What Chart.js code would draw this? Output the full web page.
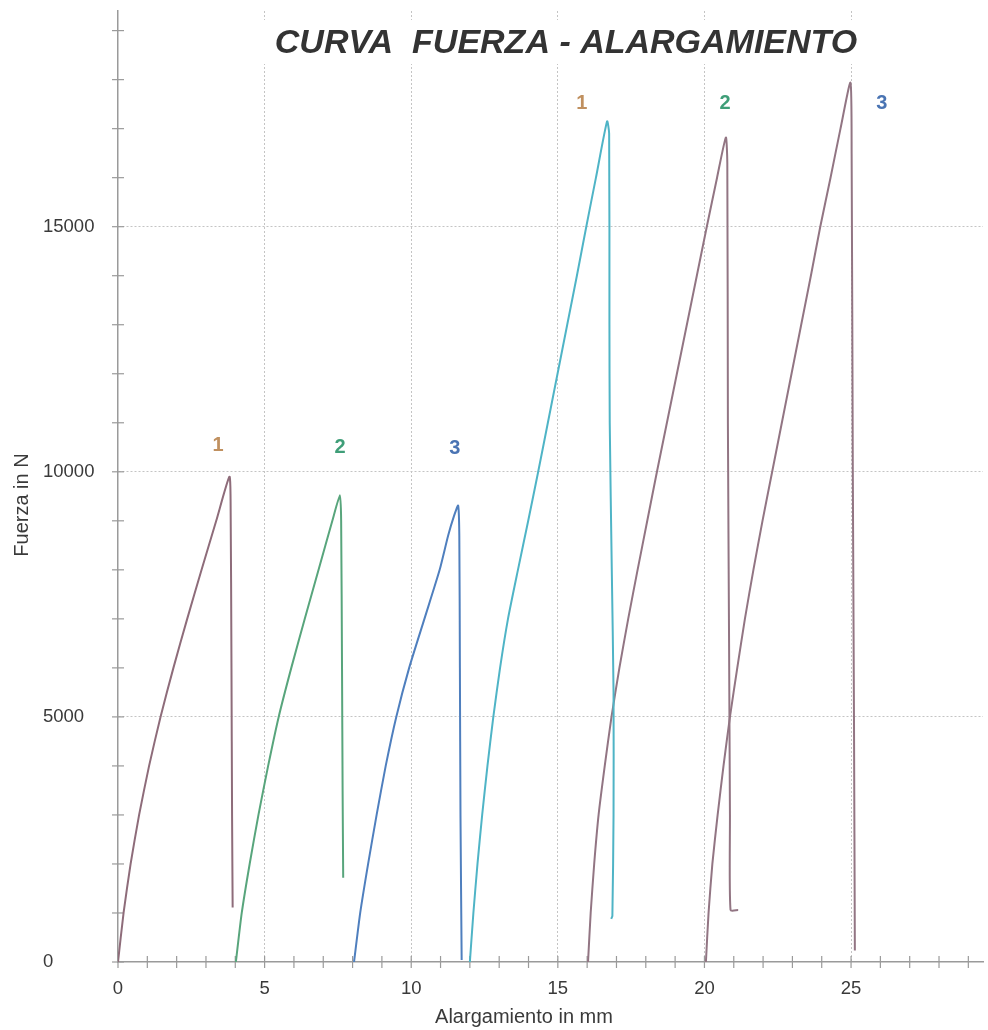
<!DOCTYPE html>
<html>
<head>
<meta charset="utf-8">
<script src="https://cdn.jsdelivr.net/npm/chart.js@4.4.1/dist/chart.umd.min.js"></script>
<style>
  html, body { margin: 0; padding: 0; background: #fff; }
  #wrap { width: 988px; height: 1030px; position: relative; }
</style>
</head>
<body>
<div id="wrap"><canvas id="myChart"></canvas></div>
<script>
// Fuerza (N) frente a alargamiento (mm)
var serieA1 = [[0,0],[0.19,1000],[0.43,2000],[0.72,3000],[1.06,4000],[1.45,5000],[1.89,6000],[2.36,7000],[2.85,8000],[3.35,9000],[3.8,9900],[3.84,9400],[3.87,6000],[3.89,3000],[3.91,1110]];
var serieA2 = [[4.02,0],[4.22,1000],[4.49,2000],[4.79,3000],[5.12,4000],[5.48,5000],[5.91,6000],[6.37,7000],[6.84,8000],[7.31,9000],[7.57,9520],[7.61,9000],[7.64,6000],[7.66,3500],[7.68,1720]];
var serieA3 = [[8.05,0],[8.26,1000],[8.53,2000],[8.82,3000],[9.13,4000],[9.49,5000],[9.93,6000],[10.45,7000],[10.97,8000],[11.26,8700],[11.46,9100],[11.6,9310],[11.64,8700],[11.66,6000],[11.68,3000],[11.72,40]];
var serieB1 = [[12.0,0],[12.12,1000],[12.26,2000],[12.42,3000],[12.6,4000],[12.8,5000],[13.03,6000],[13.3,7000],[13.64,8000],[13.99,9000],[14.33,10000],[14.66,11000],[14.99,12000],[15.32,13000],[15.65,14000],[15.97,15000],[16.3,16000],[16.68,17150],[16.75,16900],[16.76,13000],[16.77,11000],[16.84,8000],[16.9,5500],[16.9,3000],[16.86,940],[16.82,880]];
var serieB2 = [[16.03,0],[16.12,1000],[16.24,2000],[16.39,3000],[16.6,4000],[16.83,5000],[17.1,6000],[17.4,7000],[17.72,8000],[18.05,9000],[18.38,10000],[18.72,11000],[19.06,12000],[19.4,13000],[19.74,14000],[20.08,15000],[20.43,16000],[20.73,16820],[20.78,16300],[20.8,11000],[20.84,6500],[20.87,3000],[20.89,1060],[21.15,1060]];
var serieB3 = [[20.05,0],[20.14,1000],[20.27,2000],[20.45,3000],[20.65,4000],[20.87,5000],[21.12,6000],[21.38,7000],[21.67,8000],[21.98,9000],[22.31,10000],[22.64,11000],[22.97,12000],[23.3,13000],[23.63,14000],[23.95,15000],[24.3,16000],[24.64,17000],[24.98,17940],[25.02,16500],[25.06,10000],[25.1,5000],[25.13,235]];

var curveColors = ['#8e6c7a', '#58a57c', '#4f7fbe', '#4fb4c6', '#927583', '#927583'];

// numeros de probeta sobre cada curva
var labelText = ['1', '2', '3', '1', '2', '3'];
var labelX = [3.41, 7.57, 11.49, 15.82, 20.70, 26.05];
var labelY = [10530, 10490, 10470, 17510, 17510, 17510];
var labelColors = ['#c0905f', '#3f9e78', '#4a74b3', '#c0905f', '#3f9e78', '#4a74b3'];

var xTickLabels = [0, 5, 10, 15, 20, 25];
var yTickLabels = [0, 5000, 10000, 15000];
var xMinorStep = 1;
var yMinorStep = 1000;

var ctx = document.getElementById('myChart').getContext('2d');

function toPoints(serie) {
    return serie.map(p => ({ x: p[0], y: p[1] }));
}

var allSeries = [serieA1, serieA2, serieA3, serieB1, serieB2, serieB3];
var datasets = allSeries.map((s, i) => ({
    data: toPoints(s),
    borderColor: curveColors[i],
    borderWidth: 2,
    pointRadius: 0,
    showLine: true,
    fill: false,
    tension: 0.2
}));

var FONT = '"Liberation Sans", Arial, sans-serif';

// ticks pequenos que cruzan los ejes, titulo y numeros
var extras = {
    id: 'extras',
    beforeDatasetsDraw(chart) {
        var c = chart.ctx;
        var xs = chart.scales.x, ys = chart.scales.y;
        var x0 = xs.getPixelForValue(0), y0 = ys.getPixelForValue(0);
        c.save();
        c.strokeStyle = '#9a9a9a';
        c.lineWidth = 1.2;
        xs.ticks.forEach(t => {
            var px = xs.getPixelForValue(t.value);
            c.beginPath(); c.moveTo(px, y0 - 6); c.lineTo(px, y0 + 6); c.stroke();
        });
        ys.ticks.forEach(t => {
            var py = ys.getPixelForValue(t.value);
            c.beginPath(); c.moveTo(x0 - 6, py); c.lineTo(x0 + 6, py); c.stroke();
        });
        // hueco blanco detras del titulo
        c.fillStyle = '#fff';
        c.fillRect(255, 20, 620, 44);
        c.restore();
    },
    afterDraw(chart) {
        var c = chart.ctx;
        var xs = chart.scales.x, ys = chart.scales.y;
        c.save();
        c.textAlign = 'center';
        c.textBaseline = 'middle';
        c.fillStyle = '#333';
        c.font = 'italic bold 34px ' + FONT;
        c.fillText('CURVA  FUERZA - ALARGAMIENTO', 566, 44);

        c.font = 'bold 20px ' + FONT;
        labelText.forEach((t, i) => {
            c.fillStyle = labelColors[i];
            c.fillText(t, xs.getPixelForValue(labelX[i]), ys.getPixelForValue(labelY[i]));
        });

        c.fillStyle = '#3a3a3a';
        c.font = '20px ' + FONT;
        c.fillText('Alargamiento in mm', 524, 1017);
        c.translate(22, 505);
        c.rotate(-Math.PI / 2);
        c.fillText('Fuerza in N', 0, 0);
        c.restore();
    }
};

function gridColor(step) {
    return function (context) {
        var v = context.tick ? context.tick.value : 0;
        return (v !== 0 && v % step === 0) ? '#c4c4c4' : 'rgba(0,0,0,0)';
    };
}

function minorTicks(step, max) {
    var out = [];
    for (var v = 0; v <= max; v += step) out.push({ value: v });
    return out;
}

var chartConfig = {
    type: 'scatter',
    data: { datasets: datasets },
    options: {
        responsive: true,
        maintainAspectRatio: false,
        animation: false,
        layout: { padding: { top: 11, right: 5, left: 43, bottom: 0 } },
        plugins: {
            legend: { display: false },
            tooltip: { enabled: false }
        },
        scales: {
            x: {
                type: 'linear',
                min: 0,
                max: 29.5,
                afterBuildTicks: scale => { scale.ticks = minorTicks(xMinorStep, 29.5); },
                afterFit: function (scale) {
                    scale.height = 68;
                    scale.paddingLeft = 0;
                    scale.paddingRight = 0;
                },
                border: { color: '#9a9a9a', width: 1.5, dash: [2, 2] },
                grid: {
                    color: gridColor(5),
                    drawTicks: true,
                    tickLength: 16,
                    tickColor: 'rgba(0,0,0,0)',
                    lineWidth: 1
                },
                ticks: {
                    autoSkip: false,
                    maxRotation: 0,
                    padding: 0,
                    color: '#3a3a3a',
                    font: { size: 18.5, family: FONT },
                    callback: v => xTickLabels.includes(v) ? String(v) : ''
                }
            },
            y: {
                type: 'linear',
                min: 0,
                max: 19400,
                afterBuildTicks: scale => { scale.ticks = minorTicks(yMinorStep, 19400); },
                afterFit: function (scale) {
                    scale.width = 75;
                    scale.paddingTop = 0;
                    scale.paddingBottom = 0;
                },
                border: { color: '#9a9a9a', width: 1.5, dash: [2, 2] },
                grid: {
                    color: gridColor(5000),
                    drawTicks: false,
                    lineWidth: 1
                },
                ticks: {
                    autoSkip: false,
                    crossAlign: 'far',
                    padding: 0,
                    color: '#3a3a3a',
                    font: { size: 18.5, family: FONT },
                    callback: v => yTickLabels.includes(v) ? String(v) : ''
                }
            }
        }
    },
    plugins: [extras]
};

var chart = new Chart(ctx, chartConfig);
</script>
</body>
</html>
